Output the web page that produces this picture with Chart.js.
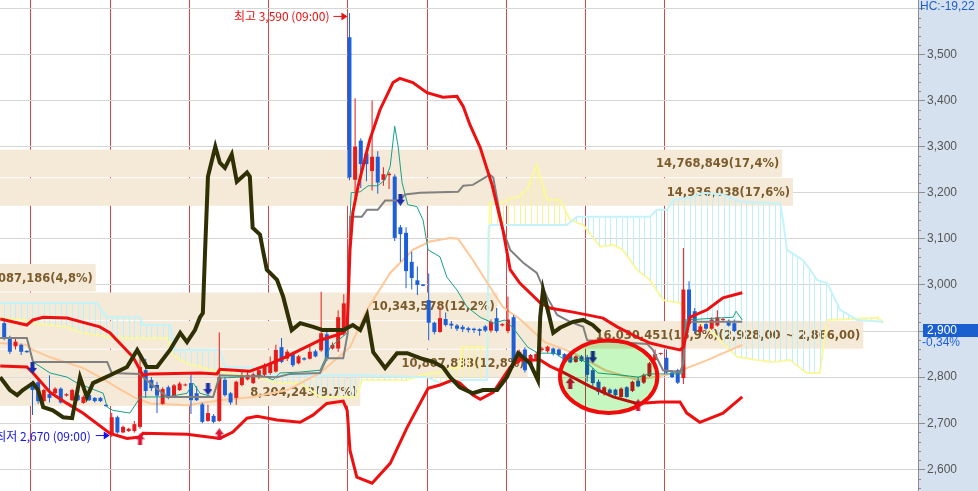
<!DOCTYPE html>
<html lang="ko">
<head>
<meta charset="UTF-8">
<title>Price chart</title>
<script src="https://cdn.jsdelivr.net/npm/chart.js@4.4.1/dist/chart.umd.min.js"></script>
<style>
  body { margin: 0; background: #fff; }
  #wrap { width: 978px; height: 491px; }
</style>
</head>
<body>
<div id="wrap"><canvas id="chart" width="978" height="491"></canvas></div>
<script>
// candles: index of the first bar, one bar per slot, 14 slots a session
const firstIndex = -5;
const sessionLength = 14;
const opens = [2917,2885,2867,2870,2857,
  2789,2789,2748,2763,2765,2775,2760,2750,2761,2744,2761,2755,2755,2740,
  2675,2713,2680,2683,2683,2692,2815,2794,2783,2742,2778,2757,2772,2782,
  2787,2765,2741,2705,2716,2705,2794,2765,2755,2783,2795,2787,2800,2805,
  2809,2812,2865,2840,2850,2830,2841,2840,2856,2858,2893,2862,2862,2895,
  3537,3228,3313,3285,3247,3278,3228,3238,3235,3125,3113,3050,3010,3001,
  2967,2918,2898,2926,2916,2912,2909,2906,2905,2904,2910,2901,2928,2912,
  2900,2930,2835,2860,2826,2840,2859,2856,2862,2860,2850,2848,2833,2845,
  2843,2815,2790,2765,2773,2773,2757,2778,2770,2792,2788,2802,2837,2850,
  2842,2810,2815,2798,2990,2943,2898,2915,2905,2912,2924,2922,2917];
const highs = [2928,2890,2885,2873,2858,
  2792,2795,2775,2804,2778,2778,2765,2775,2763,2760,2766,2757,2757,2741,
  2722,2716,2695,2690,2705,2850,2840,2800,2790,2778,2782,2785,2790,2786,
  2806,2780,2745,2740,2720,2897,2800,2768,2792,2815,2815,2810,2820,2830,
  2845,2870,2885,2860,2855,2848,2843,2870,2860,2985,2898,2875,2945,2980,
  3590,3405,3318,3295,3400,3290,3255,3245,3240,3130,3125,3072,3040,3002,
  3025,2920,2952,2940,2922,2915,2913,2909,2907,2906,2913,2925,2950,2917,
  2975,2935,2860,2865,2850,2855,2866,2868,2864,2862,2852,2850,2847,2848,
  2848,2820,2795,2780,2776,2775,2778,2780,2792,2800,2808,2833,2860,2853,
  2860,2815,2818,3080,3008,2950,2915,2918,2930,2945,2928,2925,2925];
const lows = [2880,2850,2860,2848,2853,
  2718,2742,2745,2745,2763,2743,2758,2748,2748,2742,2748,2745,2746,2736,
  2670,2677,2678,2681,2680,2688,2755,2770,2722,2740,2752,2755,2770,2780,
  2720,2748,2700,2703,2700,2703,2758,2740,2740,2780,2793,2785,2796,2800,
  2805,2810,2830,2835,2822,2828,2836,2838,2843,2855,2835,2860,2855,2890,
  3227,3190,3210,3225,3205,3198,3215,3208,3095,3050,2993,2990,2978,2997,
  2880,2893,2896,2910,2905,2900,2898,2897,2896,2890,2898,2897,2897,2910,
  2895,2820,2830,2810,2822,2835,2855,2853,2847,2845,2832,2830,2831,2833,
  2790,2780,2762,2760,2762,2758,2755,2755,2768,2778,2785,2800,2835,2848,
  2808,2798,2785,2785,2912,2895,2895,2902,2903,2910,2920,2910,2898];
const closes = [2887,2855,2877,2855,2854,
  2772,2748,2772,2755,2775,2745,2763,2772,2750,2757,2750,2748,2748,2737,
  2713,2680,2692,2688,2698,2822,2770,2776,2760,2774,2755,2782,2786,2784,
  2750,2750,2703,2722,2703,2800,2761,2745,2790,2800,2805,2806,2815,2826,
  2830,2859,2833,2855,2826,2845,2838,2855,2845,2895,2840,2870,2930,2960,
  3233,3300,3262,3262,3278,3222,3240,3241,3102,3110,3030,3015,3000,2998,
  2918,2898,2928,2913,2912,2905,2904,2902,2902,2900,2901,2920,2900,2915,
  2925,2832,2855,2815,2848,2850,2862,2866,2850,2848,2835,2832,2845,2835,
  2805,2787,2768,2778,2765,2761,2775,2757,2790,2780,2805,2830,2850,2852,
  2810,2800,2788,2990,2915,2900,2910,2905,2925,2930,2926,2912,2900];

// indicator lines as [slot, price]
const upperBand = [[-5.7,2926],[-1,2913],[0.1,2924],[1.9,2930],[6.1,2928],[11.9,2909],[13.7,2896],[17.8,2843],[19.5,2804],[20.8,2807],[29.6,2809],[32.6,2807],[33.1,2817],[38.4,2813],[41.4,2826],[44.3,2841],[47.3,2859],[50.8,2880],[54.9,2896],[55.6,2909],[56.1,3076],[56.6,3157],[57.5,3213],[58.4,3257],[59.6,3315],[61.4,3380],[63.7,3439],[64.9,3448],[67.2,3439],[69.7,3417],[72.5,3407],[75,3409],[76.1,3387],[77.3,3347],[79.1,3298],[81.2,3217],[83.1,3120],[84.4,3033],[86.1,3004],[89.7,2961],[91.4,2950],[95.5,2941],[98,2935],[100.8,2928],[103.3,2909],[106.8,2887],[109.1,2874],[112.1,2865],[114.4,2859],[115,2865],[116.2,2930],[119.2,2946],[122,2972],[125.4,2983]];
const lowerBand = [[-5.7,2824],[-1,2822],[0.1,2809],[3.1,2767],[6.1,2743],[8.9,2722],[13.7,2678],[16.7,2667],[19,2670],[19.5,2678],[27.3,2676],[33.1,2667],[35.4,2681],[37.9,2711],[39.7,2715],[43.2,2707],[47.3,2702],[49.6,2718],[52,2743],[54.9,2748],[55.6,2728],[56.1,2641],[57.3,2583],[60,2570],[63.2,2613],[66.2,2691],[69.9,2776],[72,2783],[74.3,2794],[75.5,2787],[77.8,2761],[79.1,2752],[81.4,2767],[83.1,2798],[84.4,2822],[86.1,2837],[89.7,2837],[91.4,2824],[93.7,2811],[98.5,2780],[102.6,2757],[106.8,2743],[110.9,2746],[114.4,2746],[115.6,2722],[117.9,2702],[122,2722],[125.4,2757]];
const movingAvg = [[-5.7,2874],[-1,2870],[0.1,2859],[3.1,2843],[8.9,2820],[11.9,2800],[14.9,2778],[17.8,2757],[20.8,2743],[27.3,2739],[33.1,2750],[39,2757],[45,2772],[50.8,2809],[56.1,2865],[59.1,2946],[63.2,3026],[67.2,3076],[70.2,3094],[73.8,3102],[75.2,3100],[77.8,3054],[80.8,2996],[83.1,2952],[86.1,2926],[90.5,2876],[95.3,2854],[101.2,2815],[106.9,2794],[113,2807],[119.2,2837],[125.4,2870]];
const baseLine = [[-5.7,2885],[-1,2885],[0.1,2833],[13.2,2833],[14,2809],[19,2807],[19.5,2800],[23.8,2757],[31.9,2757],[33.1,2804],[43.2,2800],[45.5,2807],[50.8,2809],[52,2841],[54.9,2841],[55.7,2896],[56.1,3148],[58.2,3148],[59.1,3163],[61,3163],[62.3,3183],[64.9,3183],[65.8,3196],[68.5,3200],[75.2,3202],[76.1,3215],[77.8,3217],[80.8,3239],[81.4,3233],[83.1,3120],[84.4,3076],[86.7,3048],[89.1,3026],[90.9,2974],[92.7,2935],[95,2920],[97.3,2909],[98,2880],[108.6,2872],[109.6,2859],[111.4,2815],[114.4,2811],[115,2830],[115.5,2920],[125.4,2920]];
const convLine = [[-5.7,2885],[-1,2885],[0.1,2833],[3.1,2809],[6.1,2800],[7.9,2787],[12.5,2765],[13.2,2735],[14.2,2728],[17.2,2722],[18.5,2746],[19,2757],[23.8,2757],[27.3,2765],[28.4,2787],[29.6,2765],[31.9,2757],[33.1,2798],[36.7,2800],[40.2,2804],[41.4,2800],[42.5,2794],[43.7,2809],[47.3,2811],[50.8,2815],[52.6,2865],[55.6,2896],[56.1,3141],[56.3,3200],[57.9,3202],[59.3,3215],[61,3215],[62.3,3228],[63.2,3257],[64,3344],[64.6,3300],[65.3,3222],[66.3,3174],[67.9,3170],[69,3141],[69.9,3076],[72,3061],[73.2,3017],[75,2989],[76.8,2952],[79.1,2930],[81.4,2917],[83.5,2924],[85.2,2902],[87.5,2865],[89.3,2852],[92.3,2852],[94.1,2837],[96.4,2841],[98.1,2830],[99.9,2809],[104.2,2804],[107,2800],[109,2807],[114.8,2807],[115.3,2924],[123.8,2930],[124.3,2943],[125.4,2924]];
const leadSpanA = [[-5.7,2961],[11.4,2961],[12.5,2939],[13.2,2930],[19,2930],[19.5,2913],[24.3,2913],[25.2,2859],[33.1,2859],[34,2822],[39,2822],[40.2,2804],[57.9,2804],[69.7,2800],[72,2787],[74.6,2787],[75.5,2794],[80.3,2794],[80.6,3124],[80.8,3130],[94.4,3130],[96.2,3148],[109.1,3148],[110.3,3163],[112.1,3163],[113.2,3185],[116.2,3189],[118.5,3200],[122,3196],[125,3181],[132.1,3176],[132.6,3141],[133.3,3076],[136.1,3054],[137.4,3033],[138.6,3011],[140.4,3004],[142.7,2946],[145.7,2924],[150.3,2920]];
const leadSpanB = [[-5.7,2928],[-1,2924],[0.1,2917],[6.1,2909],[8.9,2896],[12.5,2889],[14.9,2885],[23.8,2885],[24.8,2848],[27.3,2830],[31.9,2815],[34.4,2809],[39,2802],[43.2,2787],[47.3,2787],[50.8,2757],[57.3,2757],[58.2,2794],[66.2,2794],[68.5,2804],[72,2811],[73.8,2820],[75.5,2820],[75.9,2865],[80.3,2865],[80.8,3178],[83.1,3178],[84.4,3189],[85.6,3189],[87.4,3207],[89.1,3261],[90.9,3185],[93.2,3185],[95,3141],[97.3,3130],[100.3,3083],[102.6,3087],[104.3,3076],[106.8,3033],[109.1,3011],[111.4,2967],[114.4,2961],[116.2,2930],[119.2,2909],[122,2874],[124.5,2844],[128,2837],[130.8,2833],[133.8,2837],[136.8,2809],[139.1,2809],[140.4,2924],[148.5,2928],[149.4,2930],[150.3,2917]];
const laggingSpan = [[-5.7,2800],[-4,2772],[-2.7,2761],[-1.7,2772],[0.1,2787],[1,2772],[1.9,2735],[3.6,2728],[5.4,2713],[7,2711],[7.5,2743],[8.4,2800],[9.6,2757],[10.7,2787],[13.7,2804],[16.7,2822],[18.5,2859],[20.2,2822],[22,2822],[24.3,2859],[26.1,2896],[27.3,2876],[28.7,2902],[29.6,2930],[30.1,2939],[30.5,3076],[31,3235],[32.3,3300],[33.1,3265],[34,3254],[35.2,3283],[36.1,3224],[37.9,3244],[38.4,3235],[38.9,3124],[40.2,3109],[40.7,3076],[41.4,3033],[43.2,3011],[44.3,2974],[45.8,2902],[47.3,2917],[49.6,2909],[51.3,2902],[54.9,2902],[56.6,2913],[57.9,2902],[59.1,2935],[60.2,2854],[62.3,2820],[64.4,2852],[66.2,2852],[68.5,2841],[70.8,2833],[72.5,2822],[73.8,2800],[75.5,2778],[77.8,2765],[79.6,2772],[82.1,2772],[83.8,2800],[85.8,2852],[87.9,2830],[89.3,2793],[89.7,2930],[90.2,2989],[90.9,2952],[92,2896],[93.2,2907],[95.5,2920],[97.3,2924],[99,2913],[100.3,2898]];

// signal arrows [slot, price]
const sellSignals = [[0,2820],[31,2774],[65,3185],[99,2843]];
const buySignals = [[19,2665],[33,2676],[95,2787],[107,2739]];

// volume profile
const profileHigh = [3300, 3238, 3052, 2990, 2928, 2866, 2804];
const profileLow = [3238, 3176, 2990, 2928, 2866, 2804, 2742];
const profileVolume = [14768849, 14936038, 4087186, 10343578, 16030451, 10807833, 8204243];
const profileShare = ['17,4%', '17,6%', '4,8%', '12,2%', '18,9%', '12,8%', '9,7%'];
const currentBin = 4;

const priceTicks = [2600, 2700, 2800, 2900, 3000, 3100, 3200, 3300, 3400, 3500, 3600];
const peakNote = { slot: 56, text: '최고 3,590 (09:00)' };
const lowNote = { slot: 14, text: '최저 2,670 (09:00)' };
const highlight = { slot: 101.8, price: 2801, halfSlots: 8.6, halfPrice: 79 };
const hcLabel = 'HC:-19,22';
const changeLabel = '-0,34%';

const RED = '#e41c1c', BLUE = '#1d5fd6';
const fmt = v => Math.round(v).toLocaleString('en-US');
const pts = arr => arr.map(p => ({ x: p[0], y: p[1] }));
const slots = opens.map((_, k) => firstIndex + k);
const candleColors = slots.map((_, k) => closes[k] >= opens[k] ? RED : BLUE);
const dayLines = [0, 1, 2, 3, 4, 5, 6, 7, 8].map(k => k * sessionLength - 0.27);

const canvas = document.getElementById('chart');
const ctx = canvas.getContext('2d');

function hatch(color) {
  const c = document.createElement('canvas');
  c.width = 17; c.height = 4;
  const g = c.getContext('2d');
  g.fillStyle = color;
  [4, 10, 15].forEach(x => g.fillRect(x, 0, 1, 4));
  return ctx.createPattern(c, 'repeat');
}

function arrow(color, up) {
  const c = document.createElement('canvas');
  c.width = 9; c.height = 12;
  const g = c.getContext('2d');
  g.fillStyle = color;
  g.beginPath();
  if (up) {
    g.moveTo(4.5, 0); g.lineTo(9, 6); g.lineTo(6.5, 6); g.lineTo(6.5, 12);
    g.lineTo(2.5, 12); g.lineTo(2.5, 6); g.lineTo(0, 6);
  } else {
    g.moveTo(2.5, 0); g.lineTo(6.5, 0); g.lineTo(6.5, 6); g.lineTo(9, 6);
    g.lineTo(4.5, 12); g.lineTo(0, 6); g.lineTo(2.5, 6);
  }
  g.closePath();
  g.fill();
  return c;
}

function line(data, color, width, order, extra) {
  return Object.assign({
    type: 'line', data: pts(data), borderColor: color, borderWidth: width,
    pointRadius: 0, tension: 0, fill: false, order: order
  }, extra || {});
}

const backgroundPlugin = {
  id: 'bg',
  beforeDraw(chart) {
    const { ctx, chartArea: a, width, height } = chart;
    ctx.save();
    ctx.fillStyle = '#fff';
    ctx.fillRect(0, 0, width, height);
    ctx.fillStyle = '#d6e1ef';
    ctx.fillRect(a.right, 0, width - a.right, height);
    ctx.restore();
  }
};

const profilePlugin = {
  id: 'profile',
  beforeDatasetsDraw(chart) {
    const { ctx, chartArea: a, scales } = chart;
    const xv = scales.xv, y = scales.y;
    ctx.save();
    ctx.beginPath();
    ctx.rect(a.left, a.top, a.right - a.left, a.bottom - a.top);
    ctx.clip();
    const x0 = xv.getPixelForValue(0);
    const boxes = profileVolume.map((vol, k) => ({
      top: y.getPixelForValue(profileHigh[k]) + 3,
      bot: y.getPixelForValue(profileLow[k]) + 2,
      end: xv.getPixelForValue(vol)
    }));
    ctx.fillStyle = '#f5e9d7';
    boxes.forEach(b => ctx.fillRect(x0, b.top, b.end - x0, b.bot - b.top));
    ctx.font = 'bold 11.5px "DejaVu Sans"';
    ctx.fillStyle = '#7b5b2b';
    ctx.textAlign = 'right';
    ctx.textBaseline = 'middle';
    boxes.forEach((b, k) => {
      let text = fmt(profileVolume[k]) + '(' + profileShare[k] + ')';
      if (k === currentBin) {
        text += '(' + fmt(profileHigh[k]) + ',00 ~ ' + fmt(profileLow[k]) + ',00)';
      }
      ctx.fillText(text, b.end - 3, (b.top + b.bot) / 2 + 1);
    });
    ctx.restore();
  }
};

function noteArrow(ctx, tip, yy, color) {
  ctx.strokeStyle = color;
  ctx.fillStyle = color;
  ctx.lineWidth = 1;
  ctx.beginPath();
  ctx.moveTo(tip - 14, yy + 0.5);
  ctx.lineTo(tip - 5, yy + 0.5);
  ctx.stroke();
  ctx.beginPath();
  ctx.moveTo(tip - 6, yy - 3.5);
  ctx.lineTo(tip, yy + 0.5);
  ctx.lineTo(tip - 6, yy + 4.5);
  ctx.closePath();
  ctx.fill();
}

const notePlugin = {
  id: 'notes',
  afterDatasetsDraw(chart) {
    const { ctx, chartArea: a, scales: { x, y } } = chart;
    ctx.save();
    ctx.beginPath();
    ctx.rect(a.left, a.top, a.right - a.left, a.bottom - a.top);
    ctx.clip();
    // highlighted zone
    const cx = x.getPixelForValue(highlight.slot);
    const cy = y.getPixelForValue(highlight.price);
    const rx = x.getPixelForValue(highlight.slot + highlight.halfSlots) - cx;
    const ry = cy - y.getPixelForValue(highlight.price + highlight.halfPrice);
    ctx.beginPath();
    ctx.ellipse(cx, cy, rx, ry, 0, 0, Math.PI * 2);
    ctx.globalCompositeOperation = 'multiply';
    ctx.fillStyle = '#c6f7c0';
    ctx.fill();
    ctx.globalCompositeOperation = 'source-over';
    ctx.strokeStyle = '#f00a0a';
    ctx.lineWidth = 4;
    ctx.stroke();

    ctx.font = '12px "Noto Sans CJK KR"';
    ctx.textBaseline = 'middle';
    ctx.textAlign = 'right';
    // highest price note
    let tip = x.getPixelForValue(peakNote.slot) - 2;
    let yy = y.getPixelForValue(highs[peakNote.slot - firstIndex]) + 3;
    ctx.fillStyle = '#ee1010';
    ctx.fillText(peakNote.text, tip - 18, yy + 1);
    noteArrow(ctx, tip, yy, '#ee1010');
    // lowest price note
    tip = x.getPixelForValue(lowNote.slot) - 2;
    yy = y.getPixelForValue(lows[lowNote.slot - firstIndex]) - 2;
    ctx.fillStyle = '#1414e6';
    ctx.fillText(lowNote.text, tip - 19, yy + 1);
    noteArrow(ctx, tip, yy, '#1414e6');
    ctx.restore();
  }
};

const axisPlugin = {
  id: 'axisExtras',
  afterDraw(chart) {
    const { ctx, chartArea: a, scales: { y } } = chart;
    ctx.save();
    ctx.strokeStyle = '#8c8c8c';
    ctx.lineWidth = 1;
    ctx.beginPath();
    for (let v = 2560; v <= 3610; v += 20) {
      if (v % 100 === 0) continue;
      const py = Math.round(y.getPixelForValue(v)) + 0.5;
      ctx.moveTo(a.right, py);
      ctx.lineTo(a.right + 3, py);
    }
    ctx.stroke();
    ctx.font = '12px "Liberation Sans"';
    ctx.textAlign = 'left';
    ctx.fillStyle = '#1e5ecf';
    ctx.textBaseline = 'alphabetic';
    ctx.fillText(hcLabel, a.right + 2, 10);
    const last = closes[closes.length - 1];
    const py = Math.round(y.getPixelForValue(last));
    ctx.fillStyle = '#1a5fd0';
    ctx.fillRect(a.right + 5, py - 7, 60, 13);
    ctx.fillStyle = '#fff';
    ctx.textBaseline = 'middle';
    ctx.fillText(fmt(last), a.right + 9, py);
    ctx.fillStyle = '#1e5ee0';
    ctx.fillText(changeLabel, a.right + 4, py + 12);
    ctx.restore();
  }
};

new Chart(ctx, {
  type: 'line',
  data: {
    datasets: [
      line(leadSpanA, '#c4f4fa', 2, 10, { fill: { target: 1, above: hatch('#bff0f7'), below: hatch('#f8f29a') } }),
      line(leadSpanB, '#fcf89c', 2, 10),
      line(movingAvg, '#ffc898', 2, 9),
      {
        type: 'bar', order: 8, grouped: false, barThickness: 1, inflateAmount: 0,
        data: slots.map((s, k) => ({ x: s, y: [lows[k], highs[k]] })),
        backgroundColor: candleColors, borderWidth: 0
      },
      {
        type: 'bar', order: 7, grouped: false, barThickness: 4, inflateAmount: 0,
        data: slots.map((s, k) => ({ x: s, y: [opens[k], closes[k]] })),
        backgroundColor: candleColors, borderWidth: 0
      },
      line(convLine, '#17a08a', 1, 6),
      line(baseLine, '#808080', 2, 5),
      line(upperBand, '#ee1010', 3, 4),
      line(lowerBand, '#ee1010', 3, 4),
      line(laggingSpan, '#303005', 4, 3),
      line(buySignals, 'transparent', 0, 1, { showLine: false, pointRadius: 6, pointStyle: arrow('#dc1436', true) }),
      line(sellSignals, 'transparent', 0, 1, { showLine: false, pointRadius: 6, pointStyle: arrow('#1a2fa8', false) })
    ]
  },
  options: {
    responsive: false,
    animation: false,
    events: [],
    layout: { padding: 0, autoPadding: false },
    plugins: { legend: { display: false }, tooltip: { enabled: false } },
    scales: {
      x: {
        type: 'linear', min: -5.74, max: 156.45, offset: false,
        ticks: { display: false },
        grid: { color: '#d24848', drawTicks: false, lineWidth: 1, offset: false },
        border: { display: false },
        afterBuildTicks: s => { s.ticks = dayLines.map(v => ({ value: v })); },
        afterFit: s => { s.height = 0; s.paddingLeft = 0; s.paddingRight = 0; }
      },
      xv: { type: 'linear', display: false, position: 'top', min: 2598000, max: 16882000 },
      y: {
        type: 'linear', position: 'right', min: 2553, max: 3618,
        afterBuildTicks: s => { s.ticks = priceTicks.map(v => ({ value: v })); },
        afterFit: s => { s.width = 60; s.paddingTop = 0; s.paddingBottom = 0; },
        grid: { color: '#d6d6d6', tickColor: '#8c8c8c', tickLength: 7 },
        border: { color: '#8c8c8c' },
        ticks: {
          color: '#555', padding: 2,
          font: { family: 'Liberation Sans', size: 12 },
          callback: v => v > 3550 ? '' : fmt(v)
        }
      }
    }
  },
  plugins: [backgroundPlugin, profilePlugin, notePlugin, axisPlugin]
});
</script>
</body>
</html>
